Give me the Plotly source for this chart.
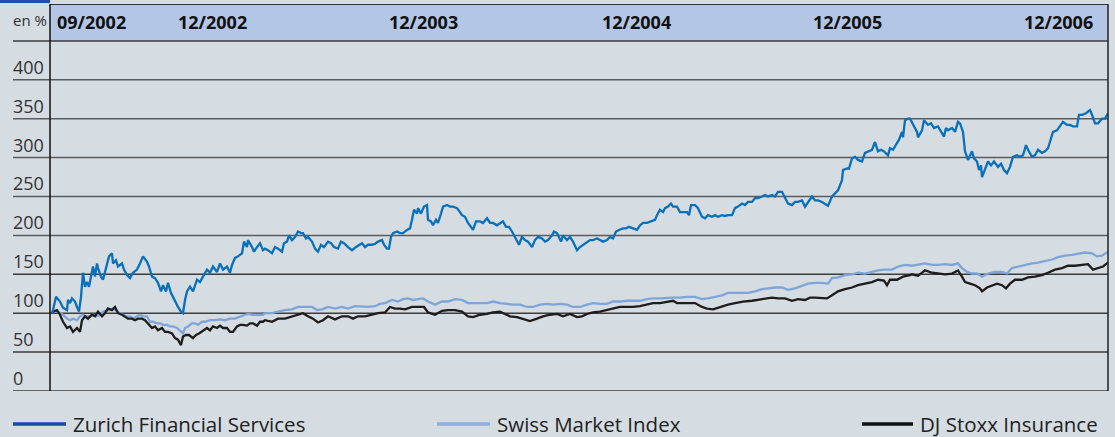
import plotly.graph_objects as go

# ---------------- data (index, start = 100; x = trading day since 09/2002) -------------
zfs_day = [0, 1, 4, 8, 11, 15, 16, 18, 20, 23, 25, 27, 29, 31, 33, 35, 37, 39, 41, 43, 45, 46, 49, 51, 53, 55,
           57, 60, 61, 64, 66, 70, 72, 75, 78, 81, 85, 88, 91, 95, 97, 100, 103, 106, 109, 111, 114, 116, 119,
           121, 124, 126, 129, 131, 133, 135, 138, 141, 145, 148, 151, 155, 158, 161, 165, 168, 171, 175, 178,
           180, 183, 186, 190, 192, 195, 196, 200, 202, 205, 208, 211,
           213, 216, 220, 223, 226, 230, 232, 235, 237, 240, 243, 246, 249, 251, 254, 256, 260, 263, 266, 269,
           272, 276, 279, 282, 286, 289, 292, 296, 300, 304, 307, 310, 313, 316, 320, 323, 326, 330, 332, 335,
           337, 339, 341, 345, 348, 351, 355, 358, 360, 362, 365, 366, 369, 372, 375, 376, 379, 381, 384, 386,
           389, 391, 395, 398, 401, 405, 408, 410, 413, 416, 420, 421, 424,
           428, 431, 435, 438, 441, 445, 448, 451, 454, 457, 460, 462, 465, 467, 470, 473, 476, 480, 483, 486,
           490, 493, 496, 500, 502, 505, 509, 511, 515, 518, 521, 525, 528, 531, 535, 538, 541, 545, 548, 551,
           555, 558, 561, 564, 567, 571, 574, 577, 581, 585, 588, 591, 595, 599, 603, 605, 608, 611, 613, 616,
           619, 621, 625, 628, 631, 635, 637, 639,
           643, 646, 650, 653, 656, 660, 663, 666, 670, 673, 676, 680, 683, 686, 690, 693, 696, 700, 703, 706,
           710, 713, 716, 720, 723, 726, 730, 733, 736, 740, 743, 746, 750, 753, 756, 760, 763, 766, 770, 773,
           776, 780, 783, 786, 790, 791, 795, 797, 800, 803, 806, 810, 813, 816, 820, 823, 826, 829, 832, 836,
           838, 841, 845, 847, 850, 851, 853, 856,
           858, 861, 865, 866, 870, 872, 876, 879, 882, 886, 889, 892, 894, 896, 900, 903, 906, 908, 911, 913,
           916, 918, 920, 922, 925, 927, 929, 930, 933, 936, 939, 942, 946, 949, 952, 955, 958, 961, 965, 968,
           971, 974, 976, 980, 983, 986, 990, 993, 996, 998, 1001, 1005, 1008, 1011, 1015, 1018, 1021, 1025,
           1027, 1030, 1034, 1038, 1040, 1043, 1046, 1050, 1053, 1056]
zfs_val = [100, 104, 121, 115, 107, 104, 117, 113, 119, 115, 108, 102, 121, 152, 134, 140, 134, 147, 160, 147,
           164, 158, 147, 143, 152, 164, 173, 177, 164, 168, 160, 164, 156, 149, 145, 152, 156, 164, 173, 166,
           160, 147, 145, 139, 128, 136, 128, 139, 126, 121, 113, 108, 102, 100, 117, 128, 134, 128, 143, 140,
           147, 156, 152, 160, 153, 164, 156, 160, 152, 162, 171, 173, 177, 192, 185, 194, 185, 179, 185, 190,
           181,
           183, 181, 177, 185, 183, 179, 190, 192, 200, 194, 198, 205, 203, 203, 196, 198, 192, 183, 179, 188,
           185, 192, 190, 185, 183, 192, 190, 185, 181, 185, 188, 190, 185, 188, 188, 189, 192, 194, 188, 183,
           183, 198, 203, 205, 203, 203, 207, 209, 220, 233, 228, 235, 228, 237, 239, 220, 218, 213, 220, 216,
           228, 237, 239, 237, 237, 235, 230, 226, 224, 216, 209, 207, 218,
           218, 216, 222, 216, 216, 213, 216, 218, 211, 211, 205, 200, 192, 188, 198, 194, 192, 185, 194, 198,
           196, 192, 194, 200, 205, 203, 192, 200, 194, 198, 192, 181, 185, 188, 192, 194, 194, 196, 194, 192,
           194, 198, 196, 205, 207, 209, 209, 211, 209, 207, 213, 216, 216, 218, 220, 226, 233, 230, 235, 237,
           241, 237, 237, 230, 230, 230, 226, 239,
           239, 235, 224, 222, 226, 224, 226, 224, 226, 225, 226, 226, 235, 237, 241, 239, 243, 243, 248, 248,
           250, 252, 250, 252, 250, 256, 256, 248, 241, 239, 243, 243, 245, 237, 243, 250, 245, 245, 243, 241,
           238, 250, 254, 258, 271, 284, 286, 286, 299, 301, 297, 295, 306, 308, 310, 320, 308, 310, 308, 303,
           312, 310, 319, 323, 333, 326, 348, 350,
           350, 342, 333, 326, 335, 348, 342, 344, 338, 340, 333, 327, 338, 335, 338, 333, 346, 344, 333, 308,
           297, 303, 308, 299, 295, 284, 290, 275, 284, 295, 290, 295, 288, 292, 284, 280, 288, 301, 303, 301,
           303, 316, 310, 301, 303, 310, 306, 308, 312, 320, 333, 335, 340, 346, 342, 342, 340, 340,
           355, 355, 357, 361, 355, 344, 344, 350, 350, 357]

smi_day = [0, 1, 5, 8, 11, 15, 18, 21, 25, 28, 31, 35, 38, 41, 45, 48, 51, 55, 58, 61, 65, 68, 71, 75, 78, 81,
           85, 88, 91, 95, 98, 101, 105, 108, 111, 115, 118, 121, 125, 128, 131, 133, 136, 140, 143, 146, 150,
           153, 158, 163, 168, 173, 178, 183, 188, 193, 196, 201, 206, 211,
           213, 220, 226, 233, 240, 246, 253, 260, 265, 270, 276, 283, 290, 296, 303, 310, 316, 323, 328, 333,
           340, 346, 351, 356, 361, 366, 371, 376, 383, 390, 396, 403, 410, 416, 423,
           428, 435, 441, 448, 455, 461, 468, 475, 481, 488, 495, 501, 508, 515, 521, 528, 535, 541, 548, 555,
           561, 568, 575, 581, 588, 595, 601, 608, 615, 621, 628, 635,
           643, 650, 656, 663, 670, 676, 683, 690, 696, 703, 710, 716, 723, 730, 736, 743, 750, 756, 763, 770,
           776, 780, 786, 793, 800, 806, 813, 820, 826, 833, 840, 846, 853,
           860, 866, 873, 880, 886, 893, 900, 906, 910, 915, 920, 925, 930, 936, 943, 950, 955, 960, 966, 973,
           980, 986, 993, 1000, 1006, 1013, 1020, 1026, 1033, 1040, 1045, 1050, 1055, 1056]
smi_val = [100, 102, 102, 100, 98, 93, 91, 93, 91, 96, 98, 96, 96, 98, 96, 98, 102, 104, 104, 106, 102, 100,
           98, 96, 96, 93, 96, 98, 96, 96, 89, 89, 87, 87, 85, 85, 83, 83, 81, 78, 74, 81, 83, 87, 87, 85, 89,
           89, 91, 91, 92, 91, 93, 93, 96, 98, 99, 98, 98, 98,
           100, 100, 102, 104, 105, 108, 108, 108, 104, 105, 108, 106, 108, 106, 109, 108, 108, 109, 112, 113,
           117, 115, 118, 119, 117, 118, 119, 115, 111, 115, 115, 118, 117, 113, 113,
           113, 113, 115, 113, 112, 111, 111, 108, 108, 111, 112, 111, 112, 111, 108, 108, 111, 113, 112, 112,
           115, 115, 116, 116, 116, 118, 119, 119, 120, 120, 120, 121,
           121, 118, 119, 121, 123, 126, 126, 126, 126, 128, 131, 132, 133, 133, 130, 132, 135, 138, 139, 139,
           138, 145, 146, 149, 150, 152, 151, 153, 155, 156, 156, 160, 162,
           161, 162, 164, 162, 162, 163, 162, 164, 158, 153, 151, 151, 147, 151, 153, 153, 151, 158, 160, 162,
           164, 165, 167, 169, 172, 174, 175, 176, 178, 177, 173, 174, 178, 179]

stoxx_day = [0, 1, 5, 8, 11, 15, 18, 21, 25, 28, 30, 33, 36, 40, 43, 46, 50, 53, 56, 60, 63, 66, 70, 73, 76, 80,
             83, 86, 90, 93, 96, 100, 103, 106, 110, 113, 116, 120, 123, 126, 129, 131, 134, 137, 141, 144,
             147, 151, 155, 158, 161, 165, 168, 171, 175, 178, 181, 185, 188, 191, 195, 198, 201, 205, 208, 211,
             213, 220, 226, 233, 240, 246, 251, 256, 261, 266, 271, 276, 283, 290, 296, 301, 306, 313, 320, 326,
             333, 338, 343, 348, 353, 360, 366, 372, 376, 383, 390, 396, 403, 410, 416, 421,
             428, 435, 441, 448, 453, 458, 465, 471, 478, 485, 491, 498, 505, 511, 518, 525, 530, 535, 541, 548,
             555, 561, 568, 575, 581, 588, 595, 601, 608, 615, 621, 625, 631, 638,
             643, 650, 655, 661, 668, 676, 683, 691, 700, 706, 713, 720, 726, 733, 740, 746, 753, 758, 763, 770,
             775, 780, 786, 793, 800, 806, 813, 820, 826, 832, 835, 838, 845, 851, 858,
             860, 866, 873, 880, 886, 893, 900, 906, 910, 913, 918, 923, 928, 930, 935, 940, 945, 950, 954, 958,
             963, 970, 976, 983, 990, 996, 1003, 1010, 1016, 1023, 1030, 1036, 1041, 1046, 1051, 1056]
stoxx_val = [100, 102, 104, 98, 89, 81, 83, 76, 81, 76, 91, 96, 93, 98, 96, 102, 96, 100, 106, 104, 108, 100,
             98, 96, 93, 93, 91, 93, 93, 91, 87, 81, 83, 78, 81, 76, 76, 74, 68, 66, 59, 70, 72, 72, 68, 72, 74,
             78, 81, 78, 83, 81, 84, 81, 81, 76, 76, 83, 85, 85, 84, 87, 87, 84, 89, 89,
             91, 89, 93, 93, 96, 98, 100, 96, 93, 88, 91, 96, 92, 96, 96, 93, 96, 96, 98, 100,
             101, 108, 106, 106, 105, 108, 108, 108, 101, 98, 103, 104, 104, 102, 96, 95,
             98, 99, 101, 102, 99, 96, 95, 93, 90, 93, 96, 98, 99, 96, 99, 95, 96, 99, 101, 102,
             104, 106, 108, 108, 108, 109, 111, 113, 113, 115, 116, 113, 113, 113,
             113, 108, 106, 105, 108, 111, 113, 115, 116, 117, 119, 120, 119, 119, 116, 118, 117, 120, 120, 119,
             119, 123, 128, 131, 133, 136, 138, 140, 143, 142, 136, 143, 143, 147, 149,
             150, 148, 155, 152, 151, 150, 151, 155, 147, 140, 138, 136, 132, 128, 133, 136, 138, 136, 132, 138,
             143, 143, 146, 147, 149, 152, 156, 158, 161, 161, 162, 163, 156, 158, 160, 165]

y_ticks = [0, 50, 100, 150, 200, 250, 300, 350, 400]
header_labels = ["09/2002", "12/2002", "12/2003", "12/2004", "12/2005", "12/2006"]
header_label_day = [39, 160, 371, 584, 795, 1006]
series_names = ["Zurich Financial Services", "Swiss Market Index", "DJ Stoxx Insurance"]

# ---------------- styling ----------------
BG = "#d5dce2"
HEADER = "#b4c6e6"
C_ZFS = "#0a70b9"
C_SMI = "#7ea5d8"
C_STX = "#1e1c1c"
LEG_COLORS = ["#1848a8", "#8cafe0", "#111111"]
FONT = "Open Sans"
Y_TOP = 497.4   # top of header band in axis units
HEADER_BOTTOM = 450

fig = go.Figure()
fig.add_trace(go.Scatter(x=smi_day, y=smi_val, mode="lines", line=dict(color=C_SMI, width=2.3),
                         name=series_names[1], showlegend=False, hoverinfo="skip"))
fig.add_trace(go.Scatter(x=stoxx_day, y=stoxx_val, mode="lines", line=dict(color=C_STX, width=2.3),
                         name=series_names[2], showlegend=False, hoverinfo="skip"))
fig.add_trace(go.Scatter(x=zfs_day, y=zfs_val, mode="lines", line=dict(color=C_ZFS, width=2.3),
                         name=series_names[0], showlegend=False, hoverinfo="skip"))

shapes = []
# header band
shapes.append(dict(type="rect", xref="paper", yref="y", x0=0, x1=1, y0=HEADER_BOTTOM, y1=Y_TOP,
                   fillcolor=HEADER, line=dict(width=0), layer="below"))
shapes.append(dict(type="line", xref="paper", yref="y", x0=0, x1=1, y0=Y_TOP - 0.6, y1=Y_TOP - 0.6,
                   line=dict(color="#333333", width=1.2)))
# gridlines (extend left under the labels)
GRID_X0 = -37 / 1058
for v in y_ticks + [HEADER_BOTTOM]:
    shapes.append(dict(type="line", xref="paper", yref="y", x0=GRID_X0, x1=1, y0=v, y1=v,
                       line=dict(color="#3c3c3c" if v in (0, 50, 100, 150, HEADER_BOTTOM) else "#5c5c5c",
                                 width=1.5), layer="below"))
# left axis & right border
shapes.append(dict(type="line", xref="paper", yref="y", x0=0, x1=0, y0=0, y1=Y_TOP,
                   line=dict(color="#111111", width=1.5)))
shapes.append(dict(type="line", xref="paper", yref="y", x0=1, x1=1, y0=0, y1=Y_TOP,
                   line=dict(color="#222222", width=1.5)))
# small blue corner mark
shapes.append(dict(type="rect", xref="paper", yref="paper", x0=-50 / 1058, x1=0,
                   y0=1 + 1 / 387, y1=1 + 5 / 387, fillcolor="#1f4fa8", line=dict(width=0)))

annotations = []
for v in y_ticks:
    annotations.append(dict(text=str(v), xref="paper", yref="y", x=GRID_X0, y=v, xanchor="left",
                            yanchor="bottom", showarrow=False, yshift=-1, xshift=-2,
                            font=dict(family=FONT, size=18, color="#333333")))
annotations.append(dict(text="en %", xref="paper", yref="y", x=GRID_X0, y=476.5, xanchor="left",
                        yanchor="middle", showarrow=False, xshift=-2,
                        font=dict(family=FONT, size=15, color="#333333")))
for lab, d in zip(header_labels, header_label_day):
    annotations.append(dict(text="<b>" + lab + "</b>", xref="x", yref="y", x=d, y=474.5,
                            xanchor="center", yanchor="middle", showarrow=False,
                            font=dict(family=FONT, size=18, color="#111111")))

# manual legend
leg_sw = [(13, 66, 73), (437, 490, 497), (862, 913, 920)]
LEG_Y = (391 - 424) / 387
for (a, b, t), name, col in zip(leg_sw, series_names, LEG_COLORS):
    shapes.append(dict(type="line", xref="paper", yref="paper", x0=(a - 50) / 1058, x1=(b - 50) / 1058,
                       y0=LEG_Y, y1=LEG_Y, line=dict(color=col, width=3.5)))
    annotations.append(dict(text=name, xref="paper", yref="paper", x=(t - 50) / 1058, y=LEG_Y,
                            xanchor="left", yanchor="middle", showarrow=False, xshift=-2,
                            font=dict(family=FONT, size=20.5, color="#222222")))

fig.update_layout(
    width=1115, height=437,
    margin=dict(l=50, r=7, t=4, b=46),
    paper_bgcolor=BG, plot_bgcolor=BG,
    xaxis=dict(range=[-2, 1056], visible=False, fixedrange=True),
    yaxis=dict(range=[0, Y_TOP], visible=False, fixedrange=True),
    shapes=shapes, annotations=annotations,
    showlegend=False,
)

fig.write_html("out.html", config={"displayModeBar": False},
               post_script="document.body.style.margin='0';document.body.style.background='%s';" % BG)
